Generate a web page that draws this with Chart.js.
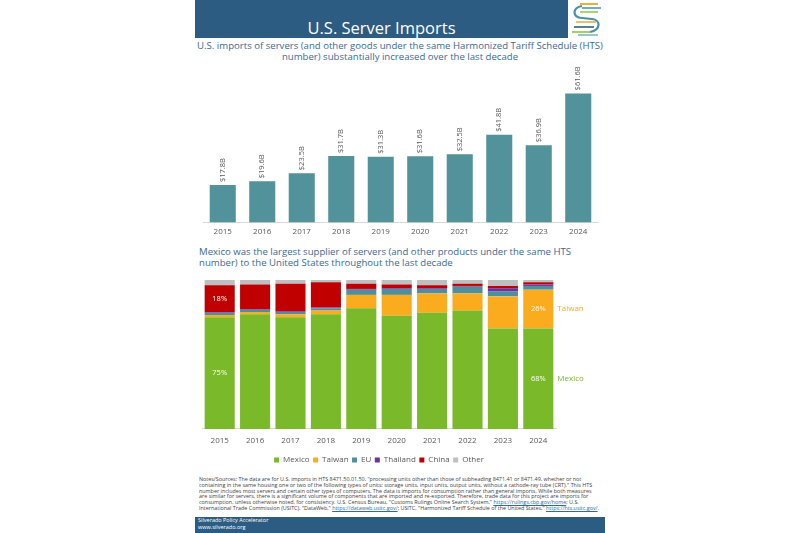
<!DOCTYPE html>
<html lang="en">
<head>
<meta charset="utf-8">
<title>U.S. Server Imports</title>
<script src="https://cdn.jsdelivr.net/npm/chart.js@4.4.1/dist/chart.umd.min.js"></script>
<style>
    body { margin: 0; background: #fff; font-family: "Open Sans", sans-serif; }
    #pagina { position: relative; width: 800px; height: 533px; overflow: hidden; background: #fff; }
    .banda { position: absolute; background: #2d5c82; }
    #titulo { position: absolute; left: 195px; top: 17px; width: 373px; text-align: center; color: #fff; font-size: 16.5px; line-height: 22px; }
    #subtitulo1 { position: absolute; left: 195px; top: 40px; width: 410px; text-align: center; color: #3b6a96; font-size: 9.6px; line-height: 11px; }
    #subtitulo2 { position: absolute; left: 199px; top: 246px; width: 400px; color: #3b6a96; font-size: 9.6px; line-height: 11px; }
    #notas { position: absolute; left: 199px; top: 477px; width: 402px; color: #404040; font-size: 5.4px; line-height: 5.8px; }
    #notas a { color: #2f6aa8; text-decoration: underline; }
    #pie { position: absolute; left: 198px; top: 517px; color: #fff; font-size: 5.5px; line-height: 7px; }
    #logo { position: absolute; left: 568px; top: 0; width: 37px; height: 38px; }
    .lienzo { position: absolute; }
</style>
</head>
<body>
<div id="pagina">
    <div class="banda" style="left:195px;top:0;width:373px;height:38px;"></div>
    <div id="titulo">U.S. Server Imports</div>
    <svg id="logo" viewBox="0 0 37 38">
        <path d="M30 4 L12 4" stroke="#e8b03a" stroke-width="2" fill="none"/>
        <path d="M33 8 L14 8" stroke="#6bb0b8" stroke-width="2" fill="none"/>
        <path d="M14 6 C4 8 4 17 14 18 L24 19 C33 20 33 30 22 32" stroke="#4b8fa8" stroke-width="2.2" fill="none"/>
        <path d="M12 12 L30 12" stroke="#8cc63f" stroke-width="1.5" fill="none"/>
        <path d="M8 22 L28 22" stroke="#e8b03a" stroke-width="1.6" fill="none"/>
        <path d="M6 27 L26 27" stroke="#2d5c82" stroke-width="1.6" fill="none"/>
        <path d="M4 32 L22 32" stroke="#8cc63f" stroke-width="1.6" fill="none"/>
        <path d="M10 35 L30 35" stroke="#6bb0b8" stroke-width="1.4" fill="none"/>
    </svg>
    <div id="subtitulo1">U.S. imports of servers (and other goods under the same Harmonized Tariff Schedule (HTS)<br>number) substantially increased over the last decade</div>

    <div class="lienzo" style="left:195px;top:62px;width:410px;height:180px;"><canvas id="chartImportaciones"></canvas></div>

    <div id="subtitulo2">Mexico was the largest supplier of servers (and other products under the same HTS<br>number) to the United States throughout the last decade</div>

    <div class="lienzo" style="left:195px;top:270px;width:410px;height:204px;"><canvas id="chartProveedores"></canvas></div>

    <div id="notas">Notes/Sources: The data are for U.S. imports in HTS 8471.50.01.50, "processing units other than those of subheading 8471.41 or 8471.49, whether or not containing in the same housing one or two of the following types of units: storage units, input units, output units, without a cathode-ray tube (CRT)." This HTS number includes most servers and certain other types of computers. The data is imports for consumption rather than general imports. While both measures are similar for servers, there is a significant volume of components that are imported and re-exported. Therefore, trade data for this project are imports for consumption, unless otherwise noted, for consistency. U.S. Census Bureau, "Customs Rulings Online Search System," <a>https://rulings.cbp.gov/home</a>; U.S. International Trade Commission (USITC), "DataWeb," <a>https://dataweb.usitc.gov/</a>; USITC, "Harmonized Tariff Schedule of the United States," <a>https://hts.usitc.gov/</a>.</div>

    <div class="banda" style="left:195px;top:517px;width:410px;height:16px;"></div>
    <div id="pie">Silverado Policy Accelerator<br>www.silverado.org</div>
</div>

<script>
// ── Datos ──
const anios = ['2015', '2016', '2017', '2018', '2019', '2020', '2021', '2022', '2023', '2024'];
const importaciones = [17.8, 19.6, 23.5, 31.7, 31.3, 31.6, 32.5, 41.8, 36.9, 61.6]; // miles de millones USD

// participación por proveedor (%)
const mexico    = [75, 77, 75, 77, 81, 76, 78, 79.5, 67.5, 67.5];
const taiwan    = [1.5, 1.5, 2, 2.5, 9, 14, 13, 11.5, 21.5, 26];
const ue        = [1.5, 1.5, 1.5, 1.5, 3.5, 4, 3, 4.5, 3.5, 2.5];
const tailandia = [0.5, 0.5, 0.5, 0.5, 0.5, 0.5, 0.5, 0.5, 2, 1];
const china     = [18, 16.5, 18.5, 17, 3.5, 2.5, 2, 1.5, 1.5, 1.5];
const otros     = [3.5, 3, 2.5, 1.5, 2.5, 3, 3.5, 2.5, 4, 1.5];

const GRIS_TEXTO = '#595959';
const FUENTE = '"Open Sans", sans-serif';

Chart.defaults.font.family = FUENTE;
Chart.defaults.color = GRIS_TEXTO;

function formatoMonto(valor) {
    return `$${Number(valor).toFixed(1)}B`;
}

// ── Etiquetas rotadas sobre las barras ──
const etiquetasVerticales = {
    id: 'etiquetasVerticales',
    afterDatasetsDraw(chart) {
        const { ctx } = chart;
        const meta = chart.getDatasetMeta(0);
        ctx.save();
        ctx.fillStyle = GRIS_TEXTO;
        ctx.font = `7.5px ${FUENTE}`;
        ctx.textAlign = 'left';
        ctx.textBaseline = 'middle';
        meta.data.forEach((barra, i) => {
            ctx.save();
            ctx.translate(barra.x, barra.y - 3);
            ctx.rotate(-Math.PI / 2);
            ctx.fillText(formatoMonto(chart.data.datasets[0].data[i]), 0, 0);
            ctx.restore();
        });
        ctx.restore();
    },
};

// ── Porcentajes dentro de segmentos + nombres a la derecha ──
const etiquetasSegmentos = {
    id: 'etiquetasSegmentos',
    afterDatasetsDraw(chart) {
        const { ctx } = chart;
        const marcados = [[0, 0], [4, 0], [0, 9], [1, 9]]; // [dataset, año]
        ctx.save();
        ctx.font = `7.5px ${FUENTE}`;
        ctx.textBaseline = 'middle';
        ctx.textAlign = 'center';
        ctx.fillStyle = '#ffffff';
        marcados.forEach(([d, i]) => {
            const el = chart.getDatasetMeta(d).data[i];
            const valor = chart.data.datasets[d].data[i];
            ctx.fillText(`${Math.round(valor)}%`, el.x, (el.y + el.base) / 2);
        });
        // nombres a la derecha del último año
        ctx.textAlign = 'left';
        ctx.font = `8px ${FUENTE}`;
        [0, 1].forEach(d => {
            const ds = chart.data.datasets[d];
            const el = chart.getDatasetMeta(d).data[ds.data.length - 1];
            ctx.fillStyle = ds.backgroundColor;
            ctx.fillText(ds.label, el.x + el.width / 2 + 4, (el.y + el.base) / 2);
        });
        ctx.restore();
    },
};

// ── Gráfico 1: importaciones anuales ──
new Chart(document.getElementById('chartImportaciones'), {
    type: 'bar',
    data: {
        labels: anios,
        datasets: [{
            data: importaciones,
            backgroundColor: '#52929a',
            categoryPercentage: 1,
            barPercentage: 0.66,
        }],
    },
    options: {
        responsive: true,
        maintainAspectRatio: false,
        animation: false,
        layout: { padding: { top: 18, left: 8, right: 7, bottom: 0 } },
        plugins: { legend: { display: false }, tooltip: { enabled: false } },
        scales: {
            x: {
                grid: { display: false, drawTicks: false },
                border: { color: '#d9d9d9' },
                ticks: { font: { size: 8 }, color: GRIS_TEXTO, padding: 5 },
            },
            y: { display: false, beginAtZero: true, max: 68 },
        },
    },
    plugins: [etiquetasVerticales],
});

// ── Gráfico 2: participación por proveedor ──
const series = [
    { label: 'Mexico',   data: mexico,    color: '#7ab929' },
    { label: 'Taiwan',   data: taiwan,    color: '#fbab1e' },
    { label: 'EU',       data: ue,        color: '#4f8f9c' },
    { label: 'Thailand', data: tailandia, color: '#7030a0' },
    { label: 'China',    data: china,     color: '#c00000' },
    { label: 'Other',    data: otros,     color: '#bfbfbf' },
];

new Chart(document.getElementById('chartProveedores'), {
    type: 'bar',
    data: {
        labels: anios,
        datasets: series.map(s => ({
            label: s.label,
            data: s.data,
            backgroundColor: s.color,
            categoryPercentage: 1,
            barPercentage: 0.85,
        })),
    },
    options: {
        responsive: true,
        maintainAspectRatio: false,
        animation: false,
        layout: { padding: { top: 10, left: 7, right: 49, bottom: 0 } },
        plugins: {
            tooltip: { enabled: false },
            legend: {
                position: 'bottom',
                labels: { boxWidth: 5, boxHeight: 5, padding: 3.5, font: { size: 8 }, color: GRIS_TEXTO },
            },
        },
        scales: {
            x: {
                stacked: true,
                grid: { display: false, drawTicks: false },
                border: { color: '#d9d9d9' },
                ticks: { font: { size: 8 }, color: GRIS_TEXTO, padding: 7 },
            },
            y: { stacked: true, display: false, min: 0, max: 100 },
        },
    },
    plugins: [etiquetasSegmentos],
});
</script>
</body>
</html>
